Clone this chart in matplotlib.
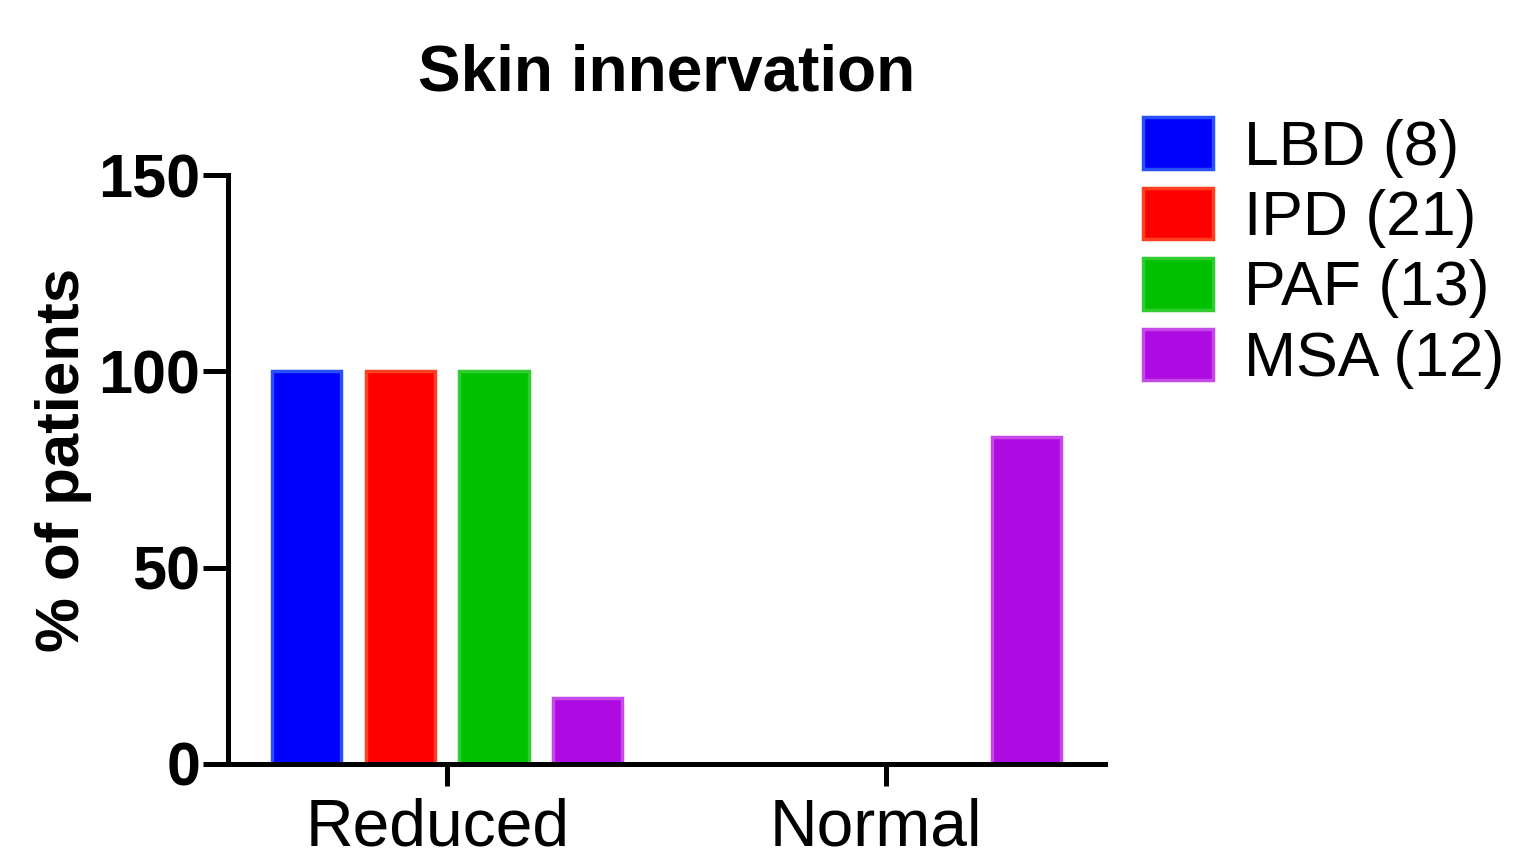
import matplotlib
matplotlib.use("Agg")
import matplotlib.pyplot as plt
import matplotlib.transforms as mtransforms
import numpy as np
from matplotlib.patches import Patch

plt.rcParams['font.family'] = ['Liberation Sans', 'DejaVu Sans']

categories = ["Reduced", "Normal"]
groups = ["LBD (8)", "IPD (21)", "PAF (13)", "MSA (12)"]
values = {
    "LBD (8)": [100.0, 0.0],
    "IPD (21)": [100.0, 0.0],
    "PAF (13)": [100.0, 0.0],
    "MSA (12)": [16.7, 83.3],
}
yticks = [0, 50, 100, 150]

face_colors = ["#0000FF", "#FF0000", "#00C000", "#AE0AE2"]
edge_colors = ["#2850FF", "#FF4020", "#30CC30", "#C548E8"]

fig = plt.figure(figsize=(15.2, 8.56), dpi=100)
ax = fig.add_axes([228/1520, 92/856, (1105-228)/1520, (764-175)/856])

x = np.arange(len(categories))
step = 0.2136
width = 0.158
for i, g in enumerate(groups):
    vals = np.array(values[g])
    off = (i - 1.5) * step
    ax.bar(x + off, vals, width=width, color=face_colors[i],
           edgecolor=edge_colors[i], linewidth=2.5, zorder=2)

ax.set_xlim(-0.5, 1.5)
ax.set_ylim(0, 150)
ax.set_yticks(yticks)
ax.set_yticklabels([str(t) for t in yticks], fontsize=44, fontweight='bold')
ax.set_xticks(x)
ax.set_xticklabels(categories, fontsize=47.5)

for s in ["top", "right"]:
    ax.spines[s].set_visible(False)
for s in ["left", "bottom"]:
    ax.spines[s].set_linewidth(3.6)
    ax.spines[s].set_zorder(3)

ax.tick_params(axis='y', length=18, width=3.6, pad=2)
ax.tick_params(axis='x', length=16, width=3.6, pad=8)

shift = mtransforms.ScaledTranslation(-10/100, 0, fig.dpi_scale_trans)
for t in ax.xaxis.get_major_ticks():
    t.label1.set_transform(t.label1.get_transform() + shift)

ax.set_ylabel("% of patients", fontsize=44.5, fontweight='bold')
ax.yaxis.set_label_coords(-0.155, 0.517)
ax.set_title("Skin innervation", fontsize=46, fontweight='bold', pad=61)

handles = [Patch(facecolor=face_colors[i], edgecolor=edge_colors[i], linewidth=2.5)
           for i in range(len(groups))]
leg = fig.legend(handles, groups, loc='upper left',
                 bbox_to_anchor=(1143/1520, 1 - 117/856),
                 fontsize=45, frameon=False, handlelength=1.12, handleheight=0.9,
                 handletextpad=0.5, labelspacing=0.16, borderaxespad=0, borderpad=0)

fig.savefig("out.png", dpi=100)
